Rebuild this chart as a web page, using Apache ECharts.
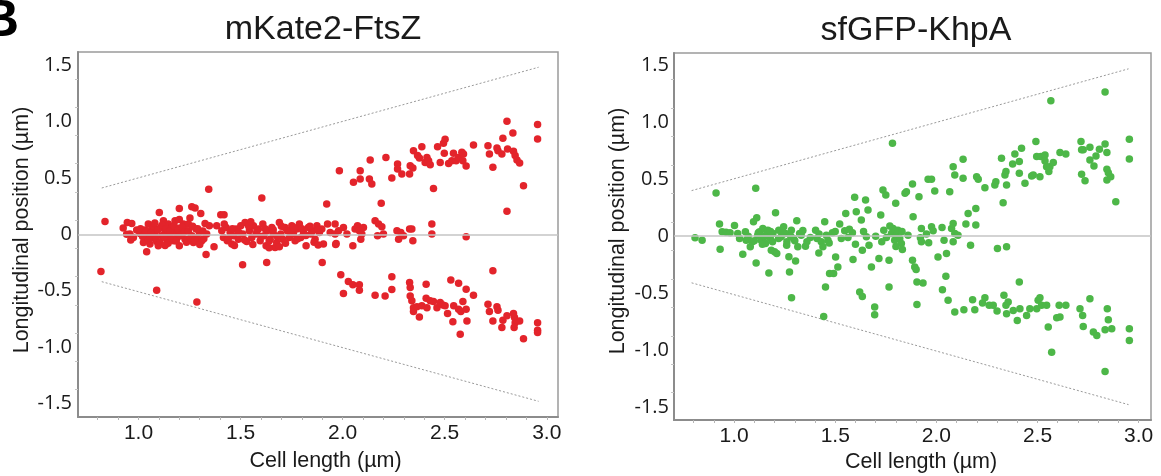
<!DOCTYPE html>
<html><head><meta charset="utf-8">
<script src="https://cdn.jsdelivr.net/npm/echarts@6/dist/echarts.min.js"></script>
<style>html,body{margin:0;padding:0;background:#fff}#c{width:1161px;height:476px}</style>
</head><body><div id="c"></div>
<script>
const panelLetter = 'B';
const titles = ['mKate2-FtsZ', 'sfGFP-KhpA'];
const xAxisName = 'Cell length (µm)';
const yAxisName = 'Longitudinal position (µm)';
const xTickLabels = [1.0, 1.5, 2.0, 2.5, 3.0];
const yTickLabels = [-1.5, -1.0, -0.5, 0, 0.5, 1.0, 1.5];
const xMinorTicks = [0.8, 0.9, 1.0, 1.1, 1.2, 1.3, 1.4, 1.5, 1.6, 1.7, 1.8, 1.9, 2.0, 2.1, 2.2, 2.3, 2.4, 2.5, 2.6, 2.7, 2.8, 2.9, 3.0];
const yMinorTicks = [-1.375, -1.125, -0.875, -0.625, -0.375, -0.125, 0.125, 0.375, 0.625, 0.875, 1.125, 1.375];

const ftszPoleUpper = [[0.82, 0.41], [2.96, 1.48]];
const ftszPoleLower = [[0.82, -0.42], [2.96, -1.48]];
const khpaPoleUpper = [[0.79, 0.40], [2.95, 1.47]];
const khpaPoleLower = [[0.79, -0.41], [2.95, -1.48]];

const ftszPoints = [
[0.816,-0.33],[0.836,0.114],[1.089,-0.495],[1.286,-0.60],[1.344,0.40],[1.604,0.321],[1.922,0.268],[1.51,-0.27],[1.628,-0.25],[1.90,-0.25],[1.331,-0.18],[1.04,-0.155],
[0.925,0.055],[0.945,0.105],[0.967,0.096],[0.958,0.002],[0.942,0.0],[0.975,-0.028],[0.962,-0.05],[0.991,0.037],[1.007,0.007],[1.024,-0.073],[1.032,0.037],[1.04,-0.013],[1.048,0.09],[1.056,-0.087],[1.065,0.046],[1.073,-0.028],[1.081,0.016],[1.089,-0.064],[1.097,-0.102],[1.102,0.193],[1.109,0.06],[1.114,-0.013],[1.122,0.12],[1.13,0.031],[1.138,-0.043],[1.146,0.09],[1.154,0.002],[1.163,0.06],[1.171,-0.058],[1.179,0.12],[1.184,0.016],[1.19,-0.028],[1.20,0.229],[1.203,0.055],[1.20,-0.102],[1.212,0.002],[1.22,0.09],[1.228,-0.043],[1.236,0.031],[1.244,0.09],[1.252,0.144],[1.261,0.244],[1.277,0.232],[1.261,-0.013],[1.269,-0.073],[1.282,0.046],[1.288,-0.028],[1.298,0.016],[1.305,0.185],[1.31,-0.058],[1.326,0.096],[1.334,0.002],[1.347,0.075],[1.37,-0.111],[1.383,0.075],[1.403,0.173],[1.419,0.173],[1.408,0.031],[1.416,-0.028],[1.429,0.06],[1.435,-0.058],[1.449,0.016],[1.457,-0.087],[1.465,-0.013],[1.478,0.046],[1.489,-0.043],[1.501,0.075],[1.511,0.002],[1.522,0.105],[1.53,-0.064],[1.543,0.031],[1.555,-0.028],[1.563,0.075],[1.576,0.002],[1.587,0.046],[1.596,-0.058],[1.609,0.09],[1.615,-0.013],[1.625,-0.102],[1.631,0.031],[1.645,-0.043],[1.653,0.06],[1.661,0.002],[1.669,-0.117],[1.677,-0.073],[1.69,0.105],[1.697,0.002],[1.707,-0.043],[1.718,0.06],[1.729,0.031],[1.739,-0.028],[1.751,0.075],[1.759,0.002],[1.767,-0.058],[1.775,0.046],[1.788,0.09],[1.795,-0.028],[1.808,0.016],[1.821,-0.102],[1.832,0.06],[1.844,0.002],[1.854,0.031],[1.865,-0.043],[1.874,0.075],[1.886,0.016],[1.898,0.046],[1.906,-0.087],[1.926,0.09],[1.939,0.016],[1.968,-0.082],[1.963,0.002],[1.98,0.031],
[1.01,0.05],[1.02,-0.02],[1.035,0.03],[1.05,-0.05],[1.06,0.01],[1.075,0.07],[1.085,-0.03],[1.095,0.04],[1.105,-0.07],[1.115,0.08],[1.125,-0.02],[1.135,0.05],[1.145,-0.08],[1.155,0.03],[1.165,-0.04],[1.175,0.07],[1.185,-0.06],[1.195,0.04],[1.205,-0.01],[1.215,0.06],[1.225,0.02],[1.235,-0.07],[1.245,0.03],[1.255,-0.03],[1.265,0.07],[1.275,-0.05],[1.29,0.05],[1.30,-0.09],[1.315,0.03],[1.32,-0.04],[1.42,0.09],[1.44,-0.04],[1.46,0.05],[1.47,-0.10],[1.49,0.02],[1.52,-0.05],[1.54,0.07],[1.56,-0.09],[1.58,0.03],[1.60,-0.02],[1.62,0.05],[1.64,-0.06],[1.66,0.04],[1.68,-0.02],[1.70,0.07],[1.72,-0.08],[1.74,0.03],[1.76,0.06],[1.78,-0.04],[1.80,0.05],[1.82,-0.01],[1.84,0.07],[1.86,-0.07],[1.88,0.04],[1.64,-0.12],[1.69,-0.11],[1.55,0.11],[1.20,0.13],[1.13,-0.10],[1.08,0.10],[1.88,-0.095],[1.966,-0.09],
[1.963,0.09],[2.004,0.06],[2.021,0.002],[2.05,-0.102],[2.061,0.046],[2.073,0.075],[2.082,0.031],[2.094,0.002],[2.102,0.06],[2.089,-0.043],[2.159,0.12],[2.176,0.09],[2.171,-0.013],[2.192,0.067],[2.20,0.002],[2.189,0.274],[2.266,0.031],[2.274,-0.043],[2.285,0.016],[2.298,-0.013],[2.328,0.046],[2.339,0.046],[2.344,-0.058],[2.437,0.09],[2.437,0.002],[2.605,-0.022],[2.805,0.203],[2.736,-0.324],
[1.984,0.563],[2.053,0.46],[2.086,0.563],[2.086,0.49],[2.131,0.49],[2.143,0.445],[2.135,0.658],[2.212,0.681],[2.241,0.499],[2.269,0.623],[2.269,0.579],[2.29,0.534],[2.331,0.608],[2.328,0.534],[2.344,0.587],[2.347,0.741],[2.367,0.697],[2.388,0.776],[2.376,0.676],[2.404,0.637],[2.413,0.681],[2.421,0.652],[2.429,0.617],[2.445,0.406],[2.465,0.776],[2.478,0.637],[2.494,0.806],[2.502,0.841],[2.498,0.717],[2.519,0.628],[2.535,0.652],[2.543,0.717],[2.556,0.652],[2.568,0.681],[2.584,0.726],[2.592,0.712],[2.589,0.652],[2.605,0.605],[2.641,0.792],[2.712,0.785],[2.719,0.712],[2.736,0.593],[2.756,0.765],[2.761,0.741],[2.78,0.712],[2.785,0.85],[2.805,1.001],[2.808,0.756],[2.834,0.898],[2.837,0.735],[2.845,0.697],[2.854,0.658],[2.867,0.632],[2.886,0.43],[2.955,0.972],[2.955,0.845],
[1.991,-0.359],[2.028,-0.419],[2.05,-0.448],[2.082,-0.448],[2.082,-0.495],[2.004,-0.525],[2.159,-0.54],[2.208,-0.548],[2.241,-0.49],[2.241,-0.377],[2.328,-0.428],[2.331,-0.472],[2.409,-0.442],[2.331,-0.546],[2.339,-0.59],[2.347,-0.65],[2.347,-0.685],[2.364,-0.643],[2.376,-0.732],[2.388,-0.634],[2.409,-0.566],[2.413,-0.65],[2.429,-0.59],[2.445,-0.596],[2.462,-0.65],[2.478,-0.605],[2.491,-0.626],[2.514,-0.703],[2.502,-0.634],[2.53,-0.406],[2.54,-0.774],[2.544,-0.634],[2.568,-0.433],[2.568,-0.664],[2.579,-0.685],[2.576,-0.886],[2.589,-0.596],[2.605,-0.486],[2.609,-0.768],[2.605,-0.664],[2.641,-0.54],[2.712,-0.62],[2.719,-0.685],[2.736,-0.768],[2.756,-0.643],[2.761,-0.673],[2.78,-0.827],[2.785,-0.761],[2.805,-0.723],[2.837,-0.703],[2.842,-0.738],[2.845,-0.783],[2.84,-0.827],[2.867,-0.768],[2.886,-0.925],[2.955,-0.783],[2.955,-0.85],[2.955,-0.871]
];

const khpaPoints = [
[0.807,-0.015],[0.842,-0.035],[0.911,0.38],[0.928,0.106],[0.931,-0.115],[0.941,0.038],[0.96,0.035],[0.98,0.03],[1.002,0.094],[1.018,0.024],[1.027,-0.02],[1.043,-0.16],[1.056,0.038],[1.06,-0.035],[1.08,-0.094],[1.09,-0.05],[1.096,0.126],[1.107,0.42],[1.112,0.161],[1.109,-0.235],[1.117,0.009],[1.126,0.038],[1.134,-0.035],[1.142,0.068],[1.15,-0.006],[1.155,-0.064],[1.162,0.024],[1.167,0.053],[1.172,-0.323],[1.179,-0.02],[1.184,-0.123],[1.192,0.024],[1.20,-0.138],[1.205,0.205],[1.211,-0.152],[1.221,0.053],[1.233,-0.006],[1.245,0.082],[1.254,0.024],[1.261,-0.05],[1.271,-0.18],[1.274,-0.315],[1.284,-0.54],[1.283,0.053],[1.294,-0.02],[1.304,-0.218],[1.31,0.135],[1.315,-0.094],[1.324,0.024],[1.332,0.009],[1.353,-0.088],[1.377,-0.011],[1.403,0.053],[1.41,-0.02],[1.419,-0.147],[1.431,-0.05],[1.439,-0.094],[1.448,0.126],[1.452,-0.447],[1.443,-0.705],[1.456,0.009],[1.464,-0.035],[1.472,-0.329],[1.492,-0.329],[1.486,0.03],[1.502,-0.182],[1.513,-0.27],[1.522,0.106],[1.547,0.047],[1.552,0.20],[1.563,-0.011],[1.585,0.03],[1.588,-0.205],[1.596,0.341],[1.604,0.214],[1.621,-0.49],[1.634,-0.529],[1.629,0.141],[1.634,-0.123],[1.65,0.317],[1.654,-0.006],[1.662,0.229],[1.667,-0.079],[1.679,-0.27],[1.695,-0.623],[1.695,-0.69],[1.716,-0.196],[1.725,0.185],[1.736,0.405],[1.75,0.361],[1.74,0.053],[1.753,-0.011],[1.766,-0.211],[1.766,-0.447],[1.778,0.024],[1.786,0.068],[1.794,-0.035],[1.799,0.288],[1.802,0.009],[1.81,0.053],[1.819,-0.02],[1.827,-0.064],[1.832,-0.117],[1.845,0.376],[1.852,0.39],[1.86,0.009],[1.882,0.458],[1.885,0.17],[1.882,-0.211],[1.893,-0.27],[1.90,-0.293],[1.904,-0.403],[1.904,-0.60],[1.914,0.346],[1.921,-0.015],[1.926,0.068],[1.934,-0.411],[1.959,0.50],[1.783,0.816],
[1.07,0.0],[1.10,-0.04],[1.12,0.03],[1.14,-0.07],[1.16,0.01],[1.18,0.04],[1.19,-0.05],[1.22,-0.02],[1.24,0.03],[1.26,-0.08],[1.28,0.0],[1.30,-0.04],[1.34,0.05],[1.36,-0.05],[1.42,0.02],[1.47,-0.06],[1.50,0.04],[1.53,-0.02],[1.57,0.06],[1.60,-0.07],[1.64,0.04],[1.70,0.0],[1.73,-0.05],[1.77,0.09],[1.80,-0.09],[1.83,0.04],
[1.951,0.018],[1.926,-0.05],[1.962,-0.059],[1.976,0.50],[1.976,0.082],[1.984,0.047],[1.992,0.396],[2.028,0.077],[2.038,-0.035],[2.066,0.39],[2.075,0.068],[2.083,0.112],[2.083,-0.05],[2.091,0.024],[2.107,0.009],[2.008,-0.182],[2.05,-0.153],[2.047,-0.352],[2.03,-0.47],[2.058,-0.564],[2.091,-0.667],[2.083,0.61],[2.091,0.537],[2.132,0.676],[2.132,0.508],[2.146,0.106],[2.169,-0.079],[2.157,0.20],[2.195,0.244],[2.195,0.097],[2.136,-0.646],[2.179,-0.558],[2.19,-0.646],[2.199,0.522],[2.207,0.50],[2.24,0.426],[2.228,-0.588],[2.24,-0.54],[2.261,-0.608],[2.281,-0.608],[2.289,0.449],[2.294,0.478],[2.30,-0.658],[2.302,-0.108],[2.322,0.684],[2.33,0.293],[2.334,-0.52],[2.339,0.537],[2.344,0.567],[2.347,-0.094],[2.347,0.449],[2.344,-0.608],[2.347,-0.681],[2.355,-0.579],[2.377,0.634],[2.388,0.722],[2.38,-0.652],[2.40,-0.74],[2.41,0.655],[2.41,0.552],[2.41,-0.403],[2.421,0.773],[2.413,-0.637],[2.438,0.464],[2.446,-0.696],[2.462,-0.637],[2.471,0.529],[2.479,0.537],[2.492,0.831],[2.496,-0.637],[2.503,-0.564],[2.496,0.699],[2.512,0.522],[2.517,0.699],[2.512,-0.54],[2.52,-0.608],[2.537,0.714],[2.537,0.661],[2.545,-0.608],[2.553,-0.799],[2.57,-1.02],[2.566,1.189],[2.545,0.61],[2.556,0.567],[2.561,0.61],[2.578,0.646],[2.595,-0.716],[2.611,-0.711],[2.607,-0.608],[2.611,0.734],[2.64,0.722],[2.64,-0.608],[2.715,0.831],[2.718,0.758],[2.726,0.758],[2.718,0.544],[2.735,0.487],[2.71,-0.637],[2.723,-0.696],[2.726,-0.793],[2.759,0.781],[2.759,0.67],[2.759,-0.549],[2.779,0.617],[2.789,0.705],[2.776,-0.843],[2.793,-0.872],[2.806,0.764],[2.834,1.266],[2.834,0.81],[2.843,0.734],[2.843,0.587],[2.85,0.558],[2.843,0.493],[2.862,0.522],[2.887,0.302],[2.845,-0.637],[2.85,-0.734],[2.834,-0.822],[2.867,-0.813],[2.834,-1.19],[2.954,0.852],[2.954,0.678],[2.954,-0.813],[2.954,-0.916]
];

const RED = '#e3242b';
const GREEN = '#4db748';
const TEXT = '#1a1a1a';
const AXIS = '#8c8c8c';

function xAxisOf(gi, min, max, margin) {
  return {
    gridIndex: gi, type: 'value', min: min, max: max,
    axisLine: { show: true, onZero: false, lineStyle: { color: AXIS, width: 2 } },
    axisTick: { show: true, customValues: xMinorTicks, length: 3, lineStyle: { color: '#b5b5b5', width: 1 } },
    axisLabel: { customValues: xTickLabels, formatter: v => v.toFixed(1), margin: margin, color: TEXT,
                 fontFamily: 'Liberation Sans', fontSize: 21 },
    splitLine: { show: false }
  };
}
function yAxisOf(gi, min, max, margin) {
  return {
    gridIndex: gi, type: 'value', min: min, max: max,
    axisLine: { show: true, onZero: false, lineStyle: { color: AXIS, width: 2 } },
    axisTick: { show: true, customValues: yMinorTicks, length: 3, lineStyle: { color: '#c5c5c5', width: 1 } },
    axisLabel: { customValues: yTickLabels, formatter: v => (v === 0 ? '0' : v.toFixed(1)), margin: margin, color: TEXT,
                 fontFamily: 'Open Sans', fontSize: 20 },
    splitLine: { show: false }
  };
}
function poleSeries(gi, data) {
  return {
    type: 'line', xAxisIndex: gi, yAxisIndex: gi, data: data, showSymbol: false, symbol: 'none',
    lineStyle: { color: '#9a9a9a', width: 1, type: [2, 2] }, z: 1, silent: true
  };
}
function zeroSeries(gi) {
  return {
    type: 'line', xAxisIndex: gi, yAxisIndex: gi, data: [], z: 1, silent: true,
    markLine: { silent: true, symbol: 'none', label: { show: false },
      lineStyle: { color: '#c4c4c4', width: 1.5, type: 'solid' }, data: [{ yAxis: 0 }] }
  };
}
function dotSeries(gi, data, color) {
  return { type: 'scatter', xAxisIndex: gi, yAxisIndex: gi, data: data, symbolSize: 7.5,
           itemStyle: { color: color, opacity: 1 }, z: 3 };
}
function label(text, x, y, size, extra) {
  return Object.assign({ type: 'text', x: x, y: y, silent: true,
    style: { text: text, fill: TEXT, font: size + 'px "Liberation Sans"', align: 'center', verticalAlign: 'middle' } }, extra || {});
}

const chart = echarts.init(document.getElementById('c'), null, { renderer: 'canvas' });
chart.setOption({
  animation: false,
  backgroundColor: '#ffffff',
  grid: [
    { left: 78, top: 52, width: 480, height: 365, show: true, borderColor: '#9a9a9a', borderWidth: 1.5, backgroundColor: 'transparent' },
    { left: 674, top: 53, width: 477, height: 367, show: true, borderColor: '#9a9a9a', borderWidth: 1.5, backgroundColor: 'transparent' }
  ],
  xAxis: [xAxisOf(0, 0.7036, 3.055, 6), xAxisOf(1, 0.703, 3.061, 6)],
  yAxis: [yAxisOf(0, -1.619, 1.615, 6), yAxisOf(1, -1.615, 1.609, 5)],
  series: [
    zeroSeries(0), poleSeries(0, ftszPoleUpper), poleSeries(0, ftszPoleLower), dotSeries(0, ftszPoints, RED),
    zeroSeries(1), poleSeries(1, khpaPoleUpper), poleSeries(1, khpaPoleLower), dotSeries(1, khpaPoints, GREEN)
  ],
  graphic: [
    { type: 'text', x: 19, y: 22, silent: true,
      style: { text: panelLetter, fill: '#000', font: 'bold 52px "Liberation Sans"', align: 'right', verticalAlign: 'middle' } },
    label(titles[0], 323, 30, 34),
    label(titles[1], 916, 31, 34),
    label(xAxisName, 325.5, 461, 21.5),
    label(xAxisName, 921, 462.5, 21.5),
    label(yAxisName, 21.6, 230, 21.5, { rotation: Math.PI / 2 }),
    label(yAxisName, 618, 231, 21.5, { rotation: Math.PI / 2 })
  ]
});
</script>
</body></html>
